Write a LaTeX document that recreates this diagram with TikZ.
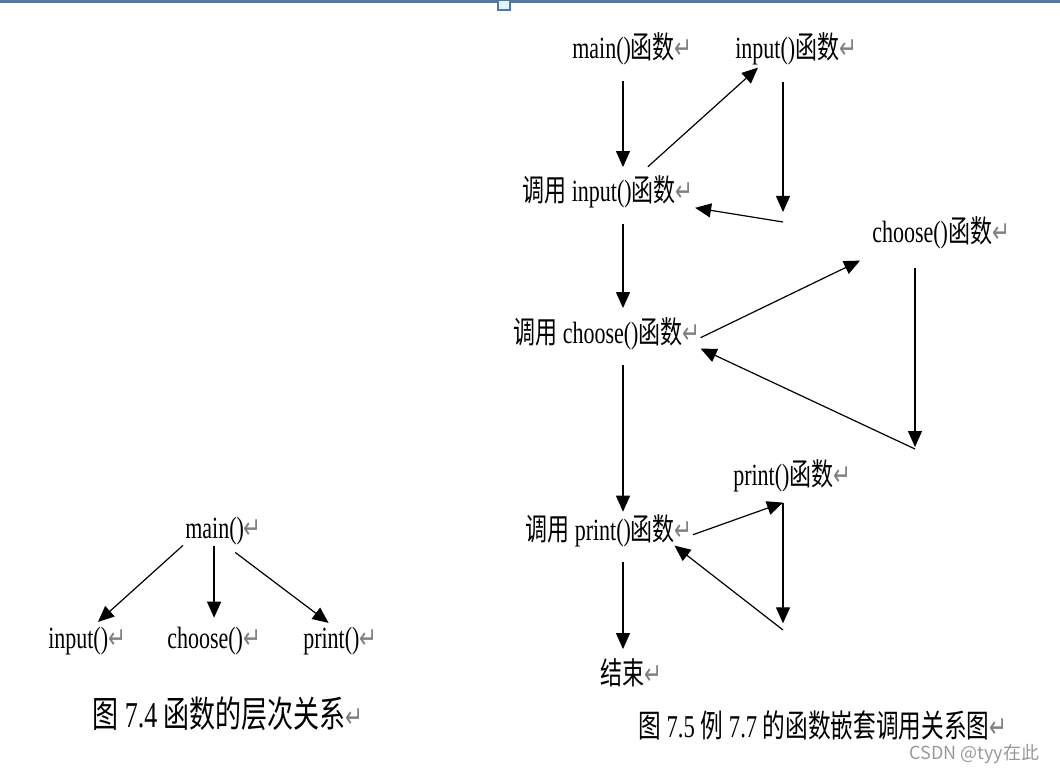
\documentclass[tikz,border=0pt]{standalone}
\usepackage{graphicx}
\usepackage{fontspec}
\setmainfont{Liberation Serif}
\newfontfamily\cjk{Noto Sans CJK SC}
\newfontfamily\retfont{DejaVu Sans}
\usetikzlibrary{arrows.meta}
\definecolor{barblue}{RGB}{79,121,166}
\definecolor{retgray}{RGB}{128,128,128}
\newcommand{\zh}[1]{{\cjk #1}}
\newcommand{\retmark}{{\retfont\fontsize{16}{16}\selectfont\color{retgray}↵}}
\newcommand{\tall}[1]{\scalebox{1}[1.4]{#1}}
\begin{document}
\begin{tikzpicture}[x=0.75pt, y=-0.75pt,
  tx/.style={inner sep=0pt, anchor=base west, text height=12pt, text depth=4pt, font=\fontsize{16.5}{18}\selectfont},
  arr/.style={-{Triangle[length=12pt,width=10.5pt]}, line width=0.9pt},
  spine/.style={arr, shorten <=12pt, shorten >=14pt}]
\useasboundingbox (0,0) rectangle (1060,770);
% window edge
\fill[barblue] (0,0) rectangle (1060,3);
\filldraw[fill=cyan!12, draw=barblue, line width=1pt] (498,0) rectangle (510,10);
% left: hierarchy
\node[tx] (lmain) at (185,538) {\tall{main()\retmark}};
\node[tx] (linput) at (48,648) {\tall{input()\retmark}};
\node[tx] (lchoose) at (167,648) {\tall{choose()\retmark}};
\node[tx] (lprint) at (303,648) {\tall{print()\retmark}};
\node[tx, font=\fontsize{19.5}{21}\selectfont] (cap74) at (92,727) {\tall{\zh{图} 7.4 \zh{函数的层次关系}\retmark}};
\draw[arr, shorten <=2pt, shorten >=11pt] (lmain.south west) -- (linput.north);
\draw[arr, shorten <=1.5pt, shorten >=10.5pt] (lmain.south -| lchoose.north) -- (lchoose.north);
\draw[arr, shorten <=11pt, shorten >=11pt] (lmain.south) -- (lprint.north);
% right: nested calls
\node[tx] (main) at (572,59) {\tall{main()\zh{函数}\retmark}};
\node[tx] (inputfn) at (735,59) {\tall{input()\zh{函数}\retmark}};
\node[tx] (callin) at (522,202) {\tall{\zh{调用} input()\zh{函数}\retmark}};
\node[tx] (choosefn) at (872,243) {\tall{choose()\zh{函数}\retmark}};
\node[tx] (callch) at (513,343) {\tall{\zh{调用} choose()\zh{函数}\retmark}};
\node[tx] (printfn) at (733,485) {\tall{print()\zh{函数}\retmark}};
\node[tx] (callpr) at (525,540) {\tall{\zh{调用} print()\zh{函数}\retmark}};
\node[tx] (endn) at (600,684) {\tall{\zh{结束}\retmark}};
\node[tx, font=\fontsize{17}{19}\selectfont] (cap75) at (638,737) {\tall{\zh{图} 7.5 \zh{例} 7.7 \zh{的函数嵌套调用关系图}\retmark}};
\node[tx, font=\cjk\fontsize{13.5}{15}\selectfont, text=black!40] (mark) at (909,759) {CSDN @tyy在此};
\coordinate (spine) at (623,0);
\coordinate (r1) at (783,222);
\coordinate (r2) at (915,449);
\coordinate (r3) at (783,630);
% main flow
\draw[spine] (main.south -| spine) -- (callin.north -| spine);
\draw[spine] (callin.south -| spine) -- (callch.north -| spine);
\draw[spine, shorten >=9pt] (callch.south -| spine) -- (callpr.north -| spine);
\draw[spine] (callpr.south -| spine) -- (endn.north -| spine);
% input()
\draw[arr] ([shift={(40,-19)}]callin.north) -- ([shift={(23,3)}]inputfn.south west);
\draw[arr, shorten <=13pt, shorten >=7.5pt] (inputfn.south -| r1) -- (r1);
\draw[arr, shorten >=1pt] (r1) -- (callin.south east);
% choose()
\draw[arr] (callch.east) -- ([shift={(-12,12)}]choosefn.south west);
\draw[arr, shorten <=14.5pt, shorten >=1.5pt] (choosefn.south -| r2) -- (r2);
\draw[arr] (r2) -- (callch.south east);
% print()
\draw[arr] (callpr.east) -- ([shift={(50,12)}]printfn.south west);
\draw[arr, shorten <=9.5pt, shorten >=5pt] (printfn.south -| r3) -- (r3);
\draw[arr] (r3) -- ([xshift=-14pt]callpr.south east);
\end{tikzpicture}
\end{document}
